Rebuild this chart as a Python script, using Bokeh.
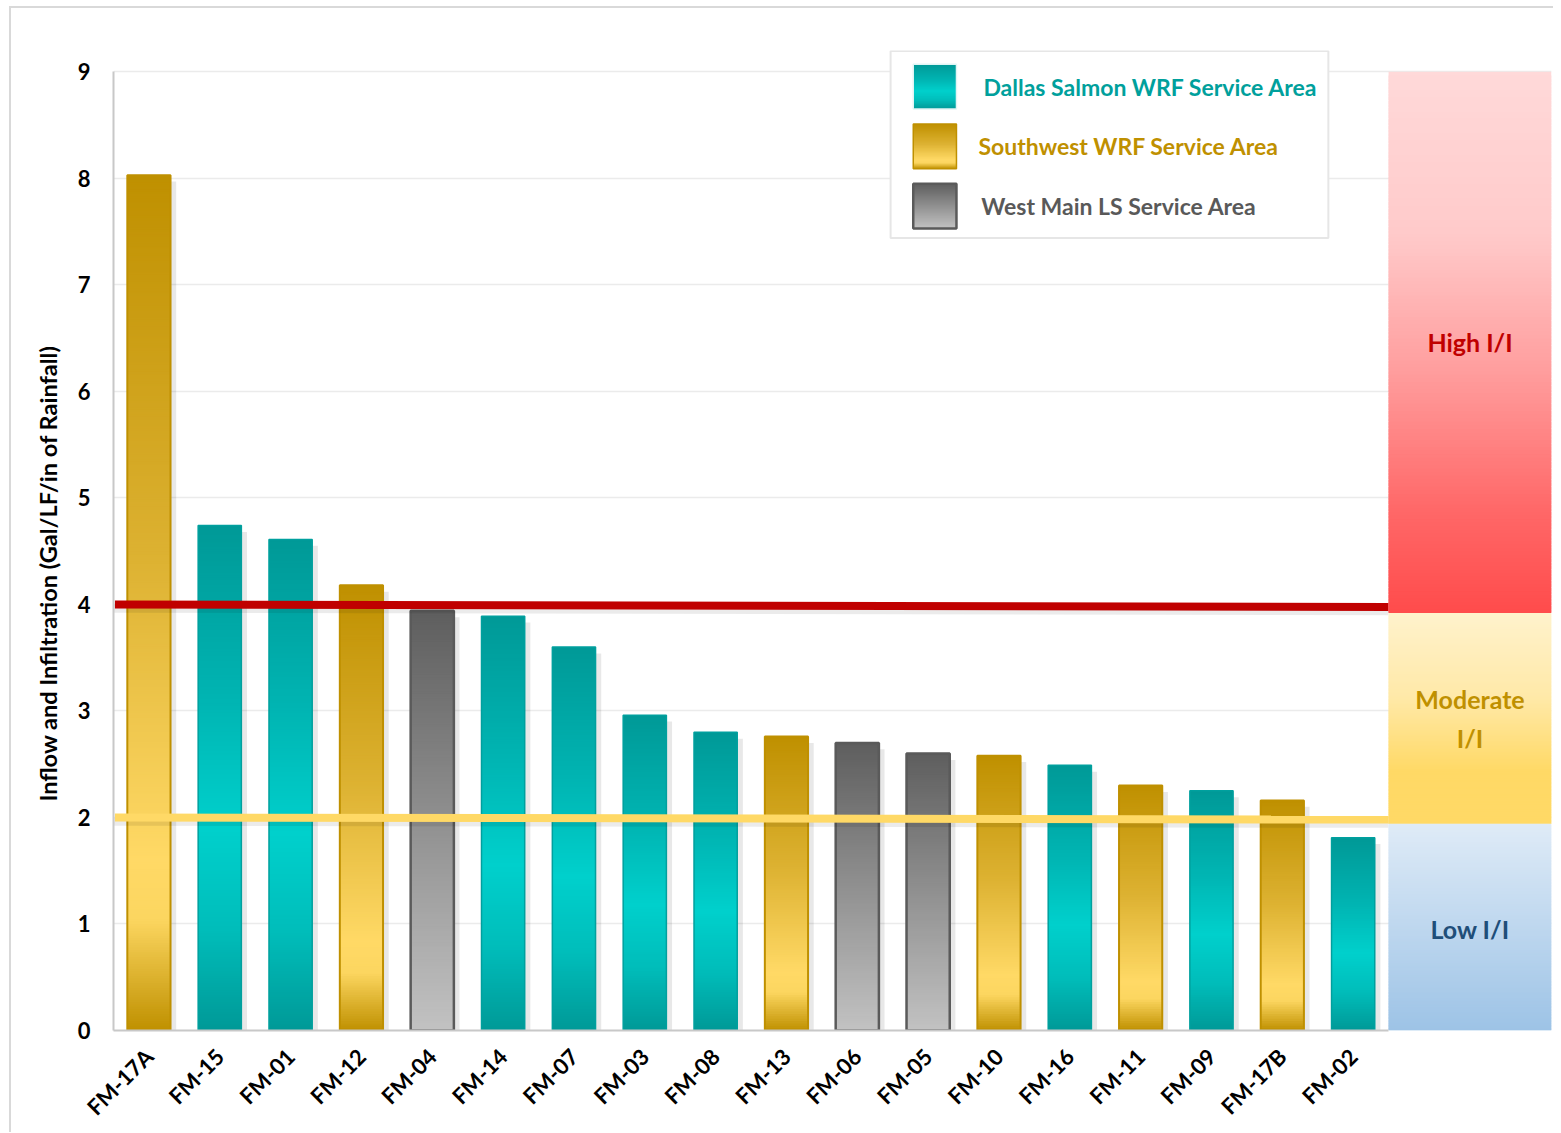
import math
from bokeh.plotting import figure
from bokeh.layouts import row
from bokeh.models import Range1d, FixedTicker, ColumnDataSource
from bokeh.core.properties import value
from bokeh.embed import file_html
from bokeh.resources import INLINE

# ---------------- data ----------------
meters = ["FM-17A", "FM-15", "FM-01", "FM-12", "FM-04", "FM-14", "FM-07", "FM-03", "FM-08",
          "FM-13", "FM-06", "FM-05", "FM-10", "FM-16", "FM-11", "FM-09", "FM-17B", "FM-02"]
ii_values = [8.03, 4.74, 4.61, 4.18, 3.94, 3.89, 3.60, 2.96, 2.80,
             2.76, 2.70, 2.60, 2.58, 2.49, 2.30, 2.25, 2.16, 1.81]
service_area = ["SW", "DS", "DS", "SW", "WM", "DS", "DS", "DS", "DS",
                "SW", "WM", "WM", "SW", "DS", "SW", "DS", "SW", "DS"]
area_names = {"DS": "Dallas Salmon WRF Service Area",
              "SW": "Southwest WRF Service Area",
              "WM": "West Main LS Service Area"}
legend_order = ["DS", "SW", "WM"]
y_ticks = [0, 1, 2, 3, 4, 5, 6, 7, 8, 9]
# threshold lines (left end, right end)
high_line = [4.00, 3.975]
moderate_line = [2.00, 1.98]
# I/I category bands
bands = [("High I/I", 3.92, 9.0), ("Moderate\nI/I", 1.94, 3.92), ("Low I/I", 0.0, 1.94)]
band_label_y = {"High I/I": 6.46, "Moderate\nI/I": 2.93, "Low I/I": 0.95}
y_label = "Inflow and Infiltration (Gal/LF/in of Rainfall)"

# ---------------- styles ----------------
FONT = "Lato"
grad = {
    "DS": [(0.0, "#009997"), (0.35, "#00B5B3"), (0.6, "#00D0CC"), (0.8, "#00BDBA"), (1.0, "#009997")],
    "SW": [(0.0, "#BF9000"), (0.45, "#DDB232"), (0.8, "#FFD966"), (0.87, "#FCD660"), (1.0, "#BF9000")],
    "WM": [(0.0, "#5E5E5E"), (1.0, "#C2C2C2")],
}
edge = {"DS": "#00A09E", "SW": "#BF9000", "WM": "#5A5A5A"}
edge_w = {"DS": 1.5, "SW": 2.0, "WM": 2.5}
text_col = {"DS": "#00A09C", "SW": "#BF9000", "WM": "#595959"}
band_grad = {
    "High I/I": [(0.0, "#FFD9D9"), (0.3, "#FFCACA"), (0.55, "#FF9E9E"), (0.8, "#FF6A6A"), (1.0, "#FF4B4B")],
    "Moderate\nI/I": [(0.0, "#FFF2CC"), (0.4, "#FFE9A8"), (0.75, "#FFD966"), (1.0, "#FFD966")],
    "Low I/I": [(0.0, "#DFEBF7"), (1.0, "#9DC3E6")],
}
band_text = {"High I/I": "#C00000", "Moderate\nI/I": "#BF9000", "Low I/I": "#1F4E79"}


def hex2rgb(h):
    h = h.lstrip("#")
    return tuple(int(h[i:i + 2], 16) for i in (0, 2, 4))


def color_at(stops, t):
    for (t0, c0), (t1, c1) in zip(stops[:-1], stops[1:]):
        if t <= t1:
            f = 0 if t1 == t0 else (t - t0) / (t1 - t0)
            a, b = hex2rgb(c0), hex2rgb(c1)
            return "#%02x%02x%02x" % tuple(round(a[i] + (b[i] - a[i]) * f) for i in range(3))
    return stops[-1][1]


def gradient(left, right, bottom, top, stops, n, src):
    # overlapping slices drawn top -> bottom so no seams show
    h = (top - bottom) / n
    for k in range(n):
        t_hi = top - k * h
        t_lo = top - (k + 1) * h - h * 0.9
        src["left"].append(left)
        src["right"].append(right)
        src["top"].append(t_hi)
        src["bottom"].append(max(bottom, t_lo))
        src["color"].append(color_at(stops, (k + 0.5) / n))


n_cat = len(meters)
X_END = 20.3
FRAME_H, BORDER_TOP, BORDER_BOTTOM = 980, 42, 86
FIG_H = FRAME_H + BORDER_TOP + BORDER_BOTTOM

p = figure(frame_width=1438, frame_height=FRAME_H, x_range=Range1d(0, X_END), y_range=Range1d(0, 9.2),
           output_backend="svg", toolbar_location=None, min_border_left=42, min_border_top=BORDER_TOP,
           min_border_right=2, min_border_bottom=BORDER_BOTTOM, background_fill_color="white",
           border_fill_color="white", outline_line_color=None)

# grid
p.xgrid.grid_line_color = None
p.ygrid.grid_line_color = "#EBEBEB"
p.ygrid.grid_line_width = 1.5

# axes
p.yaxis.ticker = FixedTicker(ticks=y_ticks)
p.yaxis.bounds = (0, 9)
p.yaxis.axis_line_color = "#C8C8C8"
p.yaxis.axis_line_width = 2
p.yaxis.major_tick_line_color = None
p.yaxis.minor_tick_line_color = None
p.yaxis.major_label_text_font = FONT
p.yaxis.major_label_text_font_style = "bold"
p.yaxis.major_label_text_font_size = "22px"
p.yaxis.major_label_text_color = "black"
p.yaxis.major_label_standoff = 17

xt = [i + 0.5 for i in range(n_cat)]
p.xaxis.ticker = FixedTicker(ticks=xt)
p.xaxis.major_label_overrides = {x: m for x, m in zip(xt, meters)}
p.xaxis.bounds = (0, n_cat)
p.xaxis.axis_line_color = "#C8C8C8"
p.xaxis.axis_line_width = 2
p.xaxis.major_tick_line_color = None
p.xaxis.minor_tick_line_color = None
p.xaxis.major_label_orientation = math.pi / 4
p.xaxis.major_label_text_font = FONT
p.xaxis.major_label_text_font_style = "bold"
p.xaxis.major_label_text_font_size = "22px"
p.xaxis.major_label_text_color = "black"
p.xaxis.major_label_standoff = 16

BW = 0.61
# shadows
sh = dict(left=[], right=[], top=[], bottom=[])
for i, v in enumerate(ii_values):
    sh["left"].append(i + 0.5 + BW / 2)
    sh["right"].append(i + 0.5 + BW / 2 + 0.08)
    sh["top"].append(v - 0.06)
    sh["bottom"].append(0)
p.quad(left="left", right="right", top="top", bottom="bottom", source=ColumnDataSource(sh),
       fill_color="#000000", fill_alpha=0.09, line_color=None)

# bars with gradient fill
gsrc = dict(left=[], right=[], top=[], bottom=[], color=[])
for i, (v, a) in enumerate(zip(ii_values, service_area)):
    gradient(i + 0.5 - BW / 2, i + 0.5 + BW / 2, 0, v, grad[a], max(60, int(v * 45)), gsrc)
p.quad(left="left", right="right", top="top", bottom="bottom", source=ColumnDataSource(gsrc),
       fill_color="color", line_color=None)
for a in legend_order:
    xs = [i + 0.5 for i, s in enumerate(service_area) if s == a]
    tops = [v for v, s in zip(ii_values, service_area) if s == a]
    p.vbar(x=xs, top=tops, bottom=0, width=BW, fill_color=None,
           line_color=edge[a], line_width=edge_w[a])

# threshold lines (with soft shadow)
p.line([0, n_cat], [high_line[0] - 0.04, high_line[1] - 0.04], line_color="#000000",
       line_alpha=0.08, line_width=8)
p.line([0, n_cat], [moderate_line[0] - 0.04, moderate_line[1] - 0.04], line_color="#000000",
       line_alpha=0.08, line_width=8)
p.line([0.02, n_cat], high_line, line_color="#C00000", line_width=8)
p.line([0.02, n_cat], moderate_line, line_color="#FFD966", line_width=8)

# I/I category bands
bsrc = dict(left=[], right=[], top=[], bottom=[], color=[])
for name, lo, hi in bands:
    gradient(n_cat, X_END, lo, hi, band_grad[name], 150, bsrc)
p.quad(left="left", right="right", top="top", bottom="bottom", source=ColumnDataSource(bsrc),
       fill_color="color", line_color=None)
for name, lo, hi in bands:
    mid = (n_cat + X_END) / 2
    p.text(x=[mid], y=[band_label_y[name]], text=[name], text_align="center", text_baseline="middle",
           text_font=value(FONT), text_font_style="bold", text_font_size="25px",
           text_color=band_text[name], text_line_height=1.3)

# legend box (custom, with gradient swatches)
LX0, LX1, LY0, LY1 = 10.97, 17.15, 7.44, 9.196
p.quad(left=[LX0], right=[LX1], bottom=[LY0], top=[LY1], fill_color="white",
       line_color="#E6E6E6", line_width=2)
row_y = [8.86, 8.30, 7.74]
text_x = [12.28, 12.21, 12.25]
SW_X0, SW_X1, SW_H = 11.29, 11.90, 0.42
lsrc = dict(left=[], right=[], top=[], bottom=[], color=[])
for a, yc in zip(legend_order, row_y):
    gradient(SW_X0, SW_X1, yc - SW_H / 2, yc + SW_H / 2, grad[a], 40, lsrc)
p.quad(left="left", right="right", top="top", bottom="bottom", source=ColumnDataSource(lsrc),
       fill_color="color", line_color=None)
for a, yc, tx in zip(legend_order, row_y, text_x):
    p.quad(left=[SW_X0], right=[SW_X1], bottom=[yc - SW_H / 2], top=[yc + SW_H / 2],
           fill_color=None, line_color=edge[a] if a != "DS" else "#E0F5F5",
           line_width=2.5 if a == "WM" else 1.5)
    p.text(x=[tx], y=[yc], text=[area_names[a]], text_align="left", text_baseline="middle",
           text_font=value(FONT), text_font_style="bold", text_font_size="23px",
           text_color=text_col[a])

# y-axis title panel (narrow strip on the left, in pixel coordinates)
LAB_W = 60
lab = figure(width=LAB_W, height=FIG_H, x_range=Range1d(0, LAB_W), y_range=Range1d(0, FIG_H),
             output_backend="svg", toolbar_location=None, min_border=0,
             outline_line_color=None, background_fill_color="white", border_fill_color="white")
lab.axis.visible = False
lab.grid.grid_line_color = None
lab.text(x=[36], y=[FIG_H - 601], text=[y_label], angle=math.pi / 2, text_align="center",
         text_baseline="middle", text_font=value(FONT), text_font_style="bold",
         text_font_size="23.5px", text_color="black")

layout = row(lab, p)
layout.styles = {"border-top": "2px solid #d9d9d9", "border-left": "2px solid #d9d9d9",
                 "margin-top": "6px", "margin-left": "9px"}

open("out.html", "w").write(file_html(layout, INLINE))
